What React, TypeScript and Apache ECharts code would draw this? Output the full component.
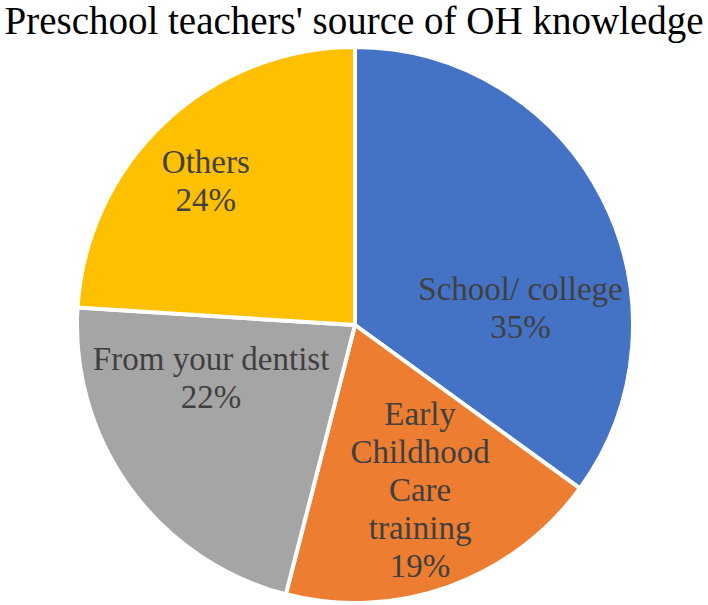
import * as echarts from 'echarts';
import { useEffect, useRef } from 'react';

const titleText = "Preschool teachers' source of OH knowledge";
// 类别（含换行，与原图标签一致）
const categories = ['School/ college', 'Early\nChildhood\nCare\ntraining', 'From your dentist', 'Others'];
const values = [35, 19, 22, 24];
const colors = ['#4472C4', '#ED7D31', '#A5A5A5', '#FFC000'];
// 标签相对默认位置的偏移
const labelOffsets = [
  [39, 47],
  [17, 31],
  [-29, -30],
  [-52, -40],
];

const SERIF = 'Times New Roman';

export default function App() {
  const chartRef = useRef<HTMLDivElement>(null);

  useEffect(() => {
    document.body.style.margin = '0';
    if (!chartRef.current) return;
    const chart = echarts.init(chartRef.current, undefined, { renderer: 'svg' });

    chart.setOption({
      animation: false,
      textStyle: { fontFamily: SERIF },
      title: [
        {
          text: titleText,
          left: 'center',
          top: -4,
          textStyle: { fontFamily: SERIF, fontSize: 39, fontWeight: 'normal', color: '#000' },
        },
      ],
      series: [
        {
          type: 'pie',
          center: [355, 325],
          radius: 278,
          startAngle: 90,
          itemStyle: { borderColor: '#fff', borderWidth: 4 },
          label: {
            position: 'inside',
            formatter: '{b}\n{d}%',
            fontFamily: SERIF,
            fontSize: 33,
            lineHeight: 38,
            color: '#404040',
          },
          labelLayout: (p: { dataIndex: number }) => ({
            dx: labelOffsets[p.dataIndex][0],
            dy: labelOffsets[p.dataIndex][1],
          }),
          emphasis: { disabled: true },
          data: categories.map((name, i) => ({
            name,
            value: values[i],
            itemStyle: { color: colors[i] },
          })),
        },
      ],
    });

    return () => chart.dispose();
  }, []);

  return <div ref={chartRef} style={{ width: 708, height: 605 }} />;
}
